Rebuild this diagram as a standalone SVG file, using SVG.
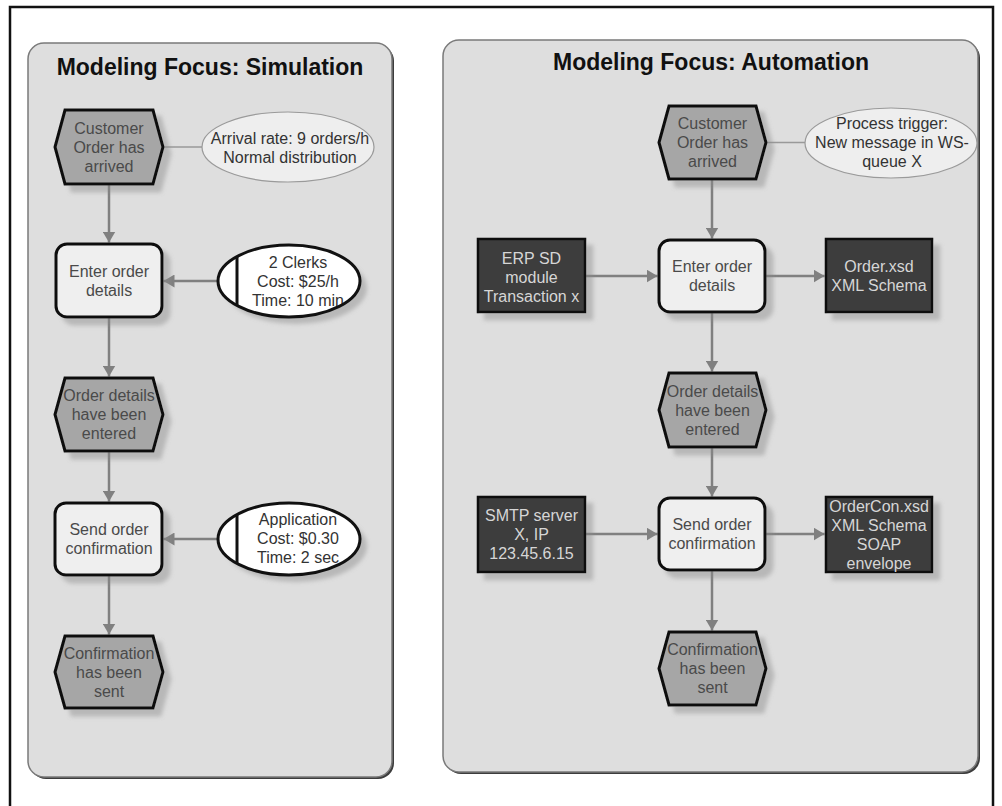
<svg xmlns="http://www.w3.org/2000/svg" width="1002" height="806" viewBox="0 0 1002 806">
<defs>
  <filter id="sh" x="-20%" y="-20%" width="150%" height="150%">
    <feDropShadow dx="7" dy="7" stdDeviation="2" flood-color="#8a8a8a" flood-opacity="0.45"/>
  </filter>
  <marker id="ah" markerUnits="userSpaceOnUse" markerWidth="12" markerHeight="13" refX="11" refY="6.5" orient="auto">
    <path d="M0,0 L11,6.5 L0,13 z" fill="#808080"/>
  </marker>
</defs>
<style>
  text { font-family: "Liberation Sans", Arial, sans-serif; font-size: 16px; text-anchor: middle; }
  .title { font-size: 23px; font-weight: bold; fill: #111; }
  .panel { fill: #dedede; stroke: #7a7a7a; stroke-width: 1.5; }
  .pshadow { fill: #3c3c3c; }
  .ev { fill: #a6a6a6; stroke: #111; stroke-width: 3; filter: url(#sh); }
  .fn { fill: #efefef; stroke: #111; stroke-width: 3; filter: url(#sh); }
  .sys { fill: #3e3e3e; stroke: #111; stroke-width: 2.5; filter: url(#sh); }
  .note { fill: #eeeeee; stroke: #9a9a9a; stroke-width: 1.2; }
  .res { fill: #ffffff; stroke: none; filter: url(#sh); }
  .resline { fill: none; stroke: #111; stroke-width: 3; }
  .t { fill: #4a4a4a; }
  .tl { fill: #d6d6d6; }
  .tn { fill: #333; }
  .c { fill: none; stroke: #808080; stroke-width: 2.5; }
  .ca { fill: none; stroke: #808080; stroke-width: 2.5; marker-end: url(#ah); }
  .cn { fill: none; stroke: #999; stroke-width: 1.5; }
</style>

<rect x="10" y="7" width="983" height="830" fill="#ffffff" stroke="#111" stroke-width="2.5"/>

<g id="panel-simulation">
  <rect class="pshadow" x="30" y="45" width="364" height="734" rx="16"/>
  <rect class="panel" x="28" y="43" width="364" height="734" rx="16"/>
  <text class="title" x="210" y="75">Modeling Focus: Simulation</text>
</g>
<g id="panel-automation">
  <rect class="pshadow" x="445" y="42" width="535" height="732" rx="16"/>
  <rect class="panel" x="443" y="40" width="535" height="732" rx="16"/>
  <text class="title" x="711" y="70">Modeling Focus: Automation</text>
</g>

<g id="connectors">
  <line class="cn" x1="163" y1="147" x2="202" y2="147"/>
  <line class="ca" x1="109" y1="184" x2="109" y2="242.5"/>
  <line class="ca" x1="218" y1="281" x2="163.5" y2="281"/>
  <line class="ca" x1="109" y1="317" x2="109" y2="376.5"/>
  <line class="ca" x1="109" y1="451" x2="109" y2="501.5"/>
  <line class="ca" x1="218" y1="539" x2="163.5" y2="539"/>
  <line class="ca" x1="109" y1="575" x2="109" y2="634.5"/>

  <line class="cn" x1="766" y1="142.5" x2="805" y2="142.5"/>
  <line class="ca" x1="712" y1="179" x2="712" y2="238.5"/>
  <line class="ca" x1="585" y1="276" x2="657.5" y2="276"/>
  <line class="ca" x1="765" y1="276" x2="824.5" y2="276"/>
  <line class="ca" x1="712" y1="312" x2="712" y2="371.5"/>
  <line class="ca" x1="712" y1="447" x2="712" y2="496.5"/>
  <line class="ca" x1="585" y1="534" x2="657.5" y2="534"/>
  <line class="ca" x1="765" y1="534" x2="824.5" y2="534"/>
  <line class="ca" x1="712" y1="570" x2="712" y2="630.5"/>
</g>

<!-- Left panel nodes -->
<g id="s-event-arrived">
  <polygon class="ev" points="65,110 153,110 163,147 153,184 65,184 55,147"/>
  <text class="t" x="109" y="133.5">Customer</text>
  <text class="t" x="109" y="152.5">Order has</text>
  <text class="t" x="109" y="171.5">arrived</text>
</g>
<g id="s-note-arrival">
  <ellipse class="note" cx="288" cy="147" rx="86" ry="35"/>
  <text class="tn" x="290" y="143.5">Arrival rate: 9 orders/h</text>
  <text class="tn" x="290" y="162.5">Normal distribution</text>
</g>
<g id="s-func-enter">
  <rect class="fn" x="56" y="244" width="106" height="73" rx="11"/>
  <text class="t" x="109" y="276.5">Enter order</text>
  <text class="t" x="109" y="295.5">details</text>
</g>
<g id="s-res-clerks">
  <ellipse class="res" cx="289" cy="281" rx="71" ry="36"/>
  <text class="tn" x="298" y="267.5">2 Clerks</text>
  <text class="tn" x="298" y="286.5">Cost: $25/h</text>
  <text class="tn" x="298" y="305.5">Time: 10 min</text>
  <ellipse class="resline" cx="289" cy="281" rx="71" ry="36"/>
  <line class="resline" x1="237" y1="256.5" x2="237" y2="305.5"/>
</g>
<g id="s-event-entered">
  <polygon class="ev" points="65,378 153,378 163,414.5 153,451 65,451 55,414.5"/>
  <text class="t" x="109" y="401">Order details</text>
  <text class="t" x="109" y="420">have been</text>
  <text class="t" x="109" y="439">entered</text>
</g>
<g id="s-func-send">
  <rect class="fn" x="55" y="503" width="107" height="72" rx="11"/>
  <text class="t" x="109" y="535">Send order</text>
  <text class="t" x="109" y="554">confirmation</text>
</g>
<g id="s-res-application">
  <ellipse class="res" cx="289" cy="539" rx="71" ry="36"/>
  <text class="tn" x="298" y="525">Application</text>
  <text class="tn" x="298" y="544">Cost: $0.30</text>
  <text class="tn" x="298" y="563">Time: 2 sec</text>
  <ellipse class="resline" cx="289" cy="539" rx="71" ry="36"/>
  <line class="resline" x1="237" y1="514.5" x2="237" y2="563.5"/>
</g>
<g id="s-event-sent">
  <polygon class="ev" points="65,636 153,636 163,672 153,708 65,708 55,672"/>
  <text class="t" x="109" y="658.5">Confirmation</text>
  <text class="t" x="109" y="677.5">has been</text>
  <text class="t" x="109" y="696.5">sent</text>
</g>

<!-- Right panel nodes -->
<g id="a-event-arrived">
  <polygon class="ev" points="669,106 756,106 766,142.5 756,179 669,179 659,142.5"/>
  <text class="t" x="712.5" y="129">Customer</text>
  <text class="t" x="712.5" y="148">Order has</text>
  <text class="t" x="712.5" y="167">arrived</text>
</g>
<g id="a-note-trigger">
  <ellipse class="note" cx="891" cy="143" rx="86" ry="35"/>
  <text class="tn" x="892" y="128.5">Process trigger:</text>
  <text class="tn" x="892" y="147.5">New message in WS-</text>
  <text class="tn" x="892" y="166.5">queue X</text>
</g>
<g id="a-sys-erp">
  <rect class="sys" x="478" y="239" width="107" height="73"/>
  <text class="tl" x="531.5" y="263.5">ERP SD</text>
  <text class="tl" x="531.5" y="282.5">module</text>
  <text class="tl" x="531.5" y="301.5">Transaction x</text>
</g>
<g id="a-func-enter">
  <rect class="fn" x="659" y="240" width="106" height="72" rx="11"/>
  <text class="t" x="712" y="272">Enter order</text>
  <text class="t" x="712" y="291">details</text>
</g>
<g id="a-data-order">
  <rect class="sys" x="826" y="239" width="106" height="73"/>
  <text class="tl" x="879" y="272">Order.xsd</text>
  <text class="tl" x="879" y="291">XML Schema</text>
</g>
<g id="a-event-entered">
  <polygon class="ev" points="669,373 756,373 766,410 756,447 669,447 659,410"/>
  <text class="t" x="712.5" y="396.5">Order details</text>
  <text class="t" x="712.5" y="415.5">have been</text>
  <text class="t" x="712.5" y="434.5">entered</text>
</g>
<g id="a-sys-smtp">
  <rect class="sys" x="478" y="497" width="107" height="75"/>
  <text class="tl" x="531.5" y="520.5">SMTP server</text>
  <text class="tl" x="531.5" y="539.5">X, IP</text>
  <text class="tl" x="531.5" y="558.5">123.45.6.15</text>
</g>
<g id="a-func-send">
  <rect class="fn" x="659" y="498" width="106" height="72" rx="11"/>
  <text class="t" x="712" y="530">Send order</text>
  <text class="t" x="712" y="549">confirmation</text>
</g>
<g id="a-data-ordercon">
  <rect class="sys" x="826" y="497" width="106" height="75"/>
  <text class="tl" x="879" y="511.5">OrderCon.xsd</text>
  <text class="tl" x="879" y="530.5">XML Schema</text>
  <text class="tl" x="879" y="549.5">SOAP</text>
  <text class="tl" x="879" y="568.5">envelope</text>
</g>
<g id="a-event-sent">
  <polygon class="ev" points="669,632 756,632 766,668.5 756,705 669,705 659,668.5"/>
  <text class="t" x="712.5" y="655">Confirmation</text>
  <text class="t" x="712.5" y="674">has been</text>
  <text class="t" x="712.5" y="693">sent</text>
</g>
</svg>
